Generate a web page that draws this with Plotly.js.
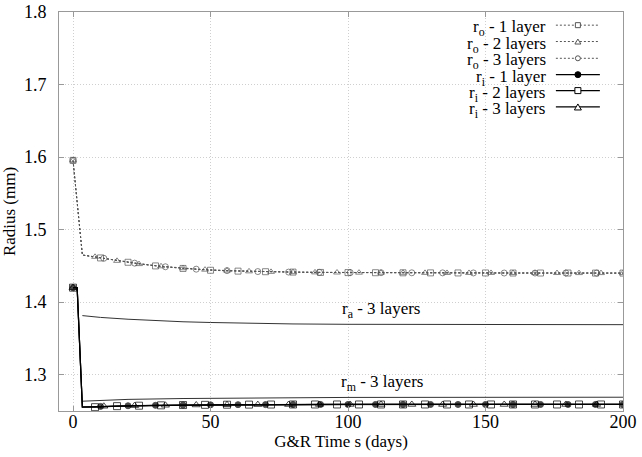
<!DOCTYPE html>
<html>
<head>
<meta charset="utf-8">
<script src="https://cdn.plot.ly/plotly-3.0.1.min.js"></script>
<style>html,body{margin:0;padding:0;background:#fff}#chart{width:642px;height:457px}</style>
</head>
<body>
<div id="chart"></div>
<script>
// ---- data ----
// start points (t = 0 and the drop just after it) are drawn without markers, except t = 0
const roStartX = [0, 3.4];
const roStartY = [1.5955, 1.465];
const riStartX = [0, 1.5, 3.4];
const riStartY = [1.42, 1.42, 1.2555];

// r_o, 1 layer (marker every 10 days)
const ro1X = [10,20,30,40,50,60,70,80,90,100,110,120,130,140,150,160,170,180,190,200];
const ro1Y = [1.461,1.455,1.450,1.4465,1.444,1.4428,1.442,1.4415,1.441,1.4408,1.4406,1.4405,1.4404,1.4403,1.4403,1.4402,1.4402,1.4402,1.4401,1.4401];
// r_o, 2 layers (every 8 days)
const ro2X = [8,16,24,32,40,48,56,64,72,80,88,96,104,112,120,128,136,144,152,160,168,176,184,192,200];
const ro2Y = [1.4625,1.457,1.4525,1.4495,1.4468,1.4448,1.4435,1.4425,1.4418,1.4414,1.4411,1.4409,1.4407,1.4406,1.4405,1.4404,1.4403,1.4403,1.4403,1.4402,1.4402,1.4402,1.4401,1.4401,1.4401];
// r_o, 3 layers (every 11.2 days)
const ro3X = [11.2,22.4,33.6,44.8,56,67.2,78.4,89.6,100.8,112,123.2,134.4,145.6,156.8,168,179.2,190.4];
const ro3Y = [1.4605,1.4538,1.4488,1.4455,1.4435,1.4422,1.4415,1.4411,1.4408,1.4406,1.4405,1.4404,1.4403,1.4402,1.4402,1.4402,1.4401];

// r_i, 1 layer
const ri1X = ro1X;
const ri1Y = [1.2563,1.2572,1.2578,1.2582,1.2585,1.2587,1.2588,1.2589,1.259,1.259,1.259,1.259,1.259,1.259,1.259,1.259,1.259,1.259,1.259,1.259];
// r_i, 2 layers
const ri2X = ro2X;
const ri2Y = [1.2553,1.2567,1.2573,1.2578,1.2582,1.2585,1.2587,1.2588,1.2589,1.259,1.259,1.259,1.259,1.259,1.259,1.259,1.259,1.259,1.259,1.259,1.259,1.259,1.259,1.259,1.259];
// r_i, 3 layers
const ri3X = ro3X;
const ri3Y = [1.2565,1.2574,1.2579,1.2583,1.2586,1.2588,1.2589,1.259,1.259,1.259,1.259,1.259,1.259,1.259,1.259,1.259,1.259];

// r_a and r_m, 3 layers (lines only)
const raX = [3.4,10,20,30,40,50,60,70,80,100,120,150,200];
const raY = [1.3815,1.379,1.3765,1.3745,1.373,1.372,1.3712,1.3705,1.37,1.3695,1.3692,1.369,1.369];
const rmX = [3.4,10,20,40,60,100,200];
const rmY = [1.2635,1.2648,1.266,1.2672,1.268,1.2687,1.269];

const xTicks = [0,50,100,150,200];
const yTicks = [1.3,1.4,1.5,1.6,1.7,1.8];
const legendLabels = ['r<sub>o</sub> - 1 layer','r<sub>o</sub> - 2 layers','r<sub>o</sub> - 3 layers',
                      'r<sub>i</sub> - 1 layer','r<sub>i</sub> - 2 layers','r<sub>i</sub> - 3 layers'];
const raLabel = 'r<sub>a</sub> - 3 layers';
const rmLabel = 'r<sub>m</sub> - 3 layers';

// ---- drawing ----
const FONT = 'Liberation Serif';
const GRAY = '#555';

function series(startX, startY, xs, ys, tail, lineStyle, sym, msize, mcolor) {
  const x = startX.concat(xs);
  const y = startY.concat(ys);
  const size = x.map((v, i) => (i === 0 || i >= startX.length) ? msize : 0);
  if (tail) { x.push(tail[0]); y.push(tail[1]); size.push(0); }
  return {x, y, type:'scatter', mode:'lines+markers', showlegend:false, hoverinfo:'skip',
    line: lineStyle, marker:{symbol:sym, size:size, color:mcolor, line:{color:mcolor, width:1}}};
}

const roLine = {color:GRAY, width:1, dash:'2px,2px'};
const riLine = {color:'#000', width:1.2};

const traces = [
  {x:raX, y:raY, type:'scatter', mode:'lines', line:{color:'#333', width:1}, showlegend:false, hoverinfo:'skip'},
  {x:rmX, y:rmY, type:'scatter', mode:'lines', line:{color:'#333', width:1}, showlegend:false, hoverinfo:'skip'},
  series(roStartX, roStartY, ro1X, ro1Y, null, roLine, 'square-open', 6, GRAY),
  series(roStartX, roStartY, ro2X, ro2Y, null, roLine, 'triangle-up-open', 6, GRAY),
  series(roStartX, roStartY, ro3X, ro3Y, [200, 1.4401], roLine, 'circle-open', 6, GRAY),
  series(riStartX, riStartY, ri1X, ri1Y, null, riLine, 'circle', 6, '#000'),
  series(riStartX, riStartY, ri2X, ri2Y, null, riLine, 'square-open', 7, '#000'),
  series(riStartX, riStartY, ri3X, ri3Y, [200, 1.259], riLine, 'triangle-up-open', 7, '#000'),
];

// custom legend (text on the left, sample on the right)
const legRowY = [0.967, 0.926, 0.884, 0.843, 0.803, 0.762];
const legSym = ['square','triangle','circle','dot','square','triangle'];
const annotations = [];
const shapes = [
  {type:'rect', xref:'paper', yref:'paper', x0:0.64, x1:0.985, y0:0.74, y1:0.985,
   fillcolor:'#fff', line:{width:0}, layer:'below'}
];
legendLabels.forEach((lab, i) => {
  const isRo = i < 3;
  const col = isRo ? GRAY : '#000';
  annotations.push({xref:'paper', yref:'paper', x:0.867, y:legRowY[i], xanchor:'right', yanchor:'middle',
    yshift:-3, text:lab, showarrow:false, font:{family:FONT, size:17, color:'#000'}});
  shapes.push({type:'line', xref:'paper', yref:'paper', x0:0.881, x1:0.959, y0:legRowY[i], y1:legRowY[i],
    line: isRo ? {color:GRAY, width:1, dash:'2px,2px'} : {color:'#000', width:1.2}, layer:'above'});
  const base = {xref:'paper', yref:'paper', xsizemode:'pixel', ysizemode:'pixel',
    xanchor:0.92, yanchor:legRowY[i], layer:'above', line:{color:col, width:1}, fillcolor:'#fff'};
  const s = legSym[i];
  const r = isRo ? 2.5 : 3;
  if (s === 'square') shapes.push(Object.assign({type:'rect', x0:-r, x1:r, y0:-r, y1:r}, base));
  else if (s === 'circle') shapes.push(Object.assign({type:'circle', x0:-r, x1:r, y0:-r, y1:r}, base));
  else if (s === 'dot') shapes.push(Object.assign({type:'circle', x0:-3, x1:3, y0:-3, y1:3}, base, {fillcolor:'#000'}));
  else shapes.push(Object.assign({type:'path', path:`M${-r-0.5},${-r} L${r+0.5},${-r} L0,${r} Z`}, base));
});

annotations.push({x:112, y:1.3897, xref:'x', yref:'y', text:raLabel, showarrow:false,
  font:{family:FONT, size:17, color:'#000'}});
annotations.push({x:112.4, y:1.2885, xref:'x', yref:'y', text:rmLabel, showarrow:false,
  font:{family:FONT, size:17, color:'#000'}});

const axisCommon = {
  showline:true, linecolor:'#999', linewidth:1, mirror:'ticks',
  ticks:'inside', ticklen:5, tickcolor:'#999', tickwidth:1,
  showgrid:true, gridcolor:'#cfcfcf', griddash:'1px,2px', gridwidth:1,
  zeroline:false, tickfont:{family:FONT, size:18, color:'#000'}
};

const layout = {
  width:642, height:457,
  margin:{l:59, r:19, t:12, b:46},
  paper_bgcolor:'#fff', plot_bgcolor:'#fff',
  font:{family:FONT, color:'#000'},
  xaxis: Object.assign({}, axisCommon, {range:[-5.1, 200], tickvals:xTicks, ticktext:xTicks.map(String),
    ticklabelstandoff:-6,
    title:{text:'G&R Time s (days)', font:{family:FONT, size:17}, standoff:3}}),
  yaxis: Object.assign({}, axisCommon, {range:[1.25, 1.8], tickvals:yTicks, ticktext:yTicks.map(v => v.toFixed(1)),
    ticklabelstandoff:8,
    title:{text:'Radius (mm)', font:{family:FONT, size:17}, standoff:4}}),
  annotations, shapes
};

Plotly.newPlot('chart', traces, layout, {displayModeBar:false, staticPlot:true});
</script>
</body>
</html>
